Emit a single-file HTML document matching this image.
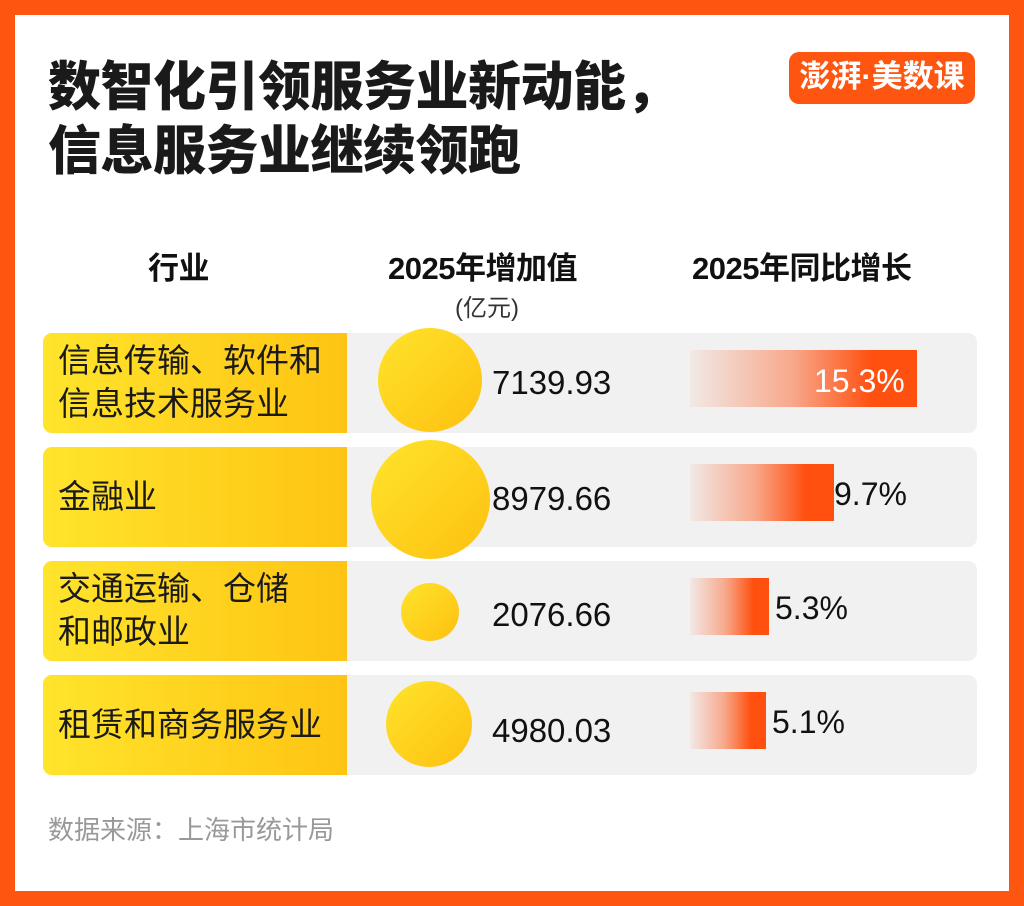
<!DOCTYPE html>
<html><head><meta charset="utf-8"><style>
*{margin:0;padding:0;box-sizing:border-box}
body{width:1024px;height:906px;background:#fe5511;position:relative;overflow:hidden;font-family:"Liberation Sans","Noto Sans CJK SC",sans-serif}
#w{position:absolute;left:15px;top:15px;width:994px;height:876px;background:#fff}
.t{position:absolute;left:48px;font-size:53px;font-weight:900;color:#1a1a1a;letter-spacing:-0.5px;line-height:1}
.h{position:absolute;font-size:31px;font-weight:bold;color:#111;top:253px;line-height:1;letter-spacing:-0.5px}
.row{position:absolute;left:43px;width:934px;height:100px;background:#f1f1f1;border-radius:9px}
.lab{position:absolute;left:0;top:0;width:304px;height:100px;border-radius:9px 0 0 9px;background:linear-gradient(90deg,#ffe42c,#fec413);font-size:33px;color:#1a1a1a;padding-left:15px;display:flex;align-items:center;line-height:1.3}
.c{position:absolute;border-radius:50%;background:linear-gradient(135deg,#ffe42c,#fdc010)}
.num{position:absolute;left:449px;font-size:33px;color:#111;line-height:1}
.bar{position:absolute;left:647px;height:57px;background:linear-gradient(90deg,rgba(255,80,16,0.05) 0%,rgba(255,80,16,0.45) 45%,#ff5010 80%)}
.p{position:absolute;font-size:32px;color:#111;line-height:1}
</style></head><body>
<div id="w"></div>
<div class="t" style="top:61px">数智化引领服务业新动能，</div>
<div class="t" style="top:125px">信息服务业继续领跑</div>
<div style="position:absolute;left:789px;top:52px;width:186px;height:52px;background:#fe5511;border-radius:10px;color:#fff;font-size:31px;font-weight:bold;text-align:center;line-height:50px">澎湃·美数课</div>
<div class="h" style="left:148px">行业</div>
<div class="h" style="left:388px">2025年增加值</div>
<div style="position:absolute;left:455px;top:288px;font-size:24px;color:#333">(亿元)</div>
<div class="h" style="left:692px">2025年同比增长</div>

<div class="row" style="top:333px"><div class="lab">信息传输、软件和<br>信息技术服务业</div>
<div class="c" style="left:335px;top:-5px;width:104px;height:104px"></div>
<div class="num" style="top:33px">7139.93</div>
<div class="bar" style="top:17px;width:227px"></div>
<div class="p" style="left:771px;top:32px;color:#fff">15.3%</div></div>

<div class="row" style="top:447px"><div class="lab">金融业</div>
<div class="c" style="left:328px;top:-7px;width:119px;height:119px"></div>
<div class="num" style="top:35px">8979.66</div>
<div class="bar" style="top:17px;width:144px"></div>
<div class="p" style="left:791px;top:31px">9.7%</div></div>

<div class="row" style="top:561px"><div class="lab">交通运输、仓储<br>和邮政业</div>
<div class="c" style="left:358px;top:22px;width:58px;height:58px"></div>
<div class="num" style="top:37px">2076.66</div>
<div class="bar" style="top:17px;width:79px"></div>
<div class="p" style="left:732px;top:31px">5.3%</div></div>

<div class="row" style="top:675px"><div class="lab">租赁和商务服务业</div>
<div class="c" style="left:343px;top:6px;width:86px;height:86px"></div>
<div class="num" style="top:39px">4980.03</div>
<div class="bar" style="top:17px;width:76px"></div>
<div class="p" style="left:729px;top:31px">5.1%</div></div>

<div style="position:absolute;left:48px;top:810px;font-size:26px;color:#999">数据来源：上海市统计局</div>
</body></html>
